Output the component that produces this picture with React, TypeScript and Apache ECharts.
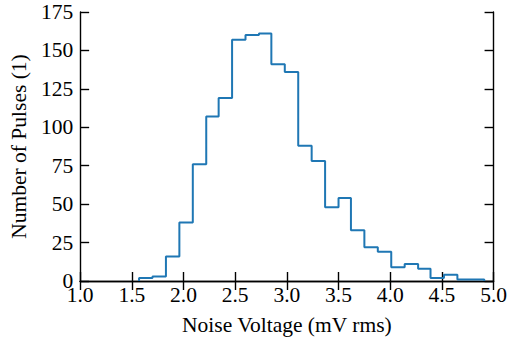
import React, { useEffect, useRef } from "react";
import * as echarts from "echarts";

// Histogram bin edges (mV rms) and counts per bin
const binEdges = [
  1.57, 1.70, 1.83, 1.96, 2.09, 2.22, 2.34, 2.47, 2.60, 2.73, 2.85, 2.98, 3.11,
  3.24, 3.37, 3.50, 3.62, 3.75, 3.88, 4.01, 4.14, 4.27, 4.39, 4.52, 4.65, 4.78, 4.91,
];
const binCounts = [
  2, 3, 16, 38, 76, 107, 119, 157, 160, 161, 141, 136, 88, 78, 48, 54, 33, 22, 19, 9,
  11, 8, 2, 4, 1, 1,
];
const xTicks = [1.0, 1.5, 2.0, 2.5, 3.0, 3.5, 4.0, 4.5, 5.0];
const yTicks = [0, 25, 50, 75, 100, 125, 150, 175];

const FONT = "'Liberation Serif', 'DejaVu Serif', serif";
const FS = 21.5;

export default function App() {
  const ref = useRef<HTMLDivElement>(null);
  useEffect(() => {
    if (!ref.current) return;
    const chart = echarts.init(ref.current, null, { renderer: "svg" });

    // step outline of histogram (histtype="step")
    const pts: [number, number][] = [[binEdges[0], 0]];
    binCounts.forEach((c, i) => {
      pts.push([binEdges[i], c]);
      pts.push([binEdges[i + 1], c]);
    });
    pts.push([binEdges[binEdges.length - 1], 0]);

    const axisLine = { show: true, lineStyle: { color: "#000", width: 1.4 } };
    const tick = { show: true, inside: true, length: 9, lineStyle: { color: "#000", width: 1.4 } };

    chart.setOption({
      animation: false,
      backgroundColor: "#fff",
      grid: { left: 79.5, right: 12, top: 12, bottom: 57.5, containLabel: false },
      xAxis: [
        {
          type: "value",
          min: xTicks[0],
          max: xTicks[xTicks.length - 1],
          interval: 0.5,
          position: "bottom",
          axisLine,
          axisTick: tick,
          splitLine: { show: false },
          axisLabel: {
            color: "#000",
            fontFamily: FONT,
            fontSize: FS,
            margin: 3,
            formatter: (v: number) => v.toFixed(1),
          },
          name: "Noise Voltage (mV rms)",
          nameLocation: "middle",
          nameGap: 33,
          nameTextStyle: { color: "#000", fontFamily: FONT, fontSize: FS },
        },
        {
          type: "value",
          min: xTicks[0],
          max: xTicks[xTicks.length - 1],
          interval: 0.5,
          position: "top",
          axisLine,
          axisTick: tick,
          splitLine: { show: false },
          axisLabel: { show: false },
        },
      ],
      yAxis: [
        {
          type: "value",
          min: yTicks[0],
          max: yTicks[yTicks.length - 1],
          interval: 25,
          position: "left",
          axisLine,
          axisTick: tick,
          splitLine: { show: false },
          axisLabel: { color: "#000", fontFamily: FONT, fontSize: FS, margin: 7 },
          name: "Number of Pulses (1)",
          nameLocation: "middle",
          nameGap: 47,
          nameTextStyle: { color: "#000", fontFamily: FONT, fontSize: FS },
        },
        {
          type: "value",
          min: yTicks[0],
          max: yTicks[yTicks.length - 1],
          interval: 25,
          position: "right",
          axisLine,
          axisTick: tick,
          splitLine: { show: false },
          axisLabel: { show: false },
        },
      ],
      series: [
        {
          type: "line",
          xAxisIndex: 0,
          yAxisIndex: 0,
          data: pts,
          showSymbol: false,
          symbol: "none",
          lineStyle: { color: "#1f77b4", width: 2 },
          z: 1,
        },
      ],
    });
    return () => chart.dispose();
  }, []);
  return (
    <div
      ref={ref}
      style={{ position: "absolute", left: 0, top: 0, width: 510, height: 341 }}
    />
  );
}
